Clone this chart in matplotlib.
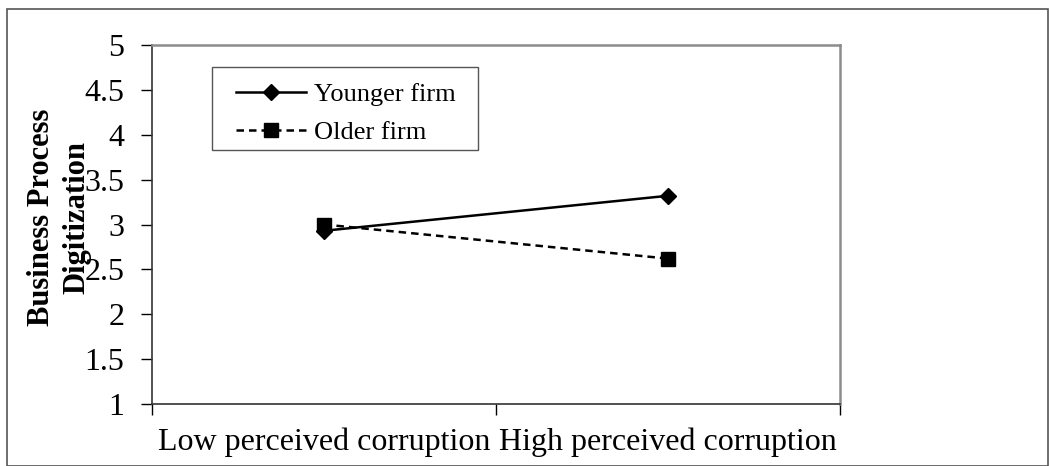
import matplotlib
matplotlib.use("Agg")
import matplotlib.pyplot as plt
from matplotlib.patches import Rectangle

categories = ["Low perceived corruption", "High perceived corruption"]
younger = [2.93, 3.32]
older = [3.00, 2.62]
yticks = [1, 1.5, 2, 2.5, 3, 3.5, 4, 4.5, 5]
ytick_labels = ["1", "1.5", "2", "2.5", "3", "3.5", "4", "4.5", "5"]

plt.rcParams['font.family'] = ['Liberation Serif', 'DejaVu Serif']

W, H = 1049, 466
fig = plt.figure(figsize=(W / 100, H / 100), dpi=100)
ax = fig.add_axes([152 / W, 1 - 404 / H, (840 - 152) / W, (404 - 45) / H])

x = [0.5, 1.5]
ax.plot(x, younger, color='black', linestyle='-', linewidth=1.8, marker='D',
        markersize=8, label='Younger firm', zorder=3)
ax.plot(x, older, color='black', linestyle=(0, (3, 2)), linewidth=1.8, marker='s',
        markersize=10, label='Older firm', zorder=3)

ax.set_xlim(0, 2)
ax.set_ylim(1, 5)
ax.set_yticks(yticks)
ax.set_yticklabels(ytick_labels, fontsize=23)
ax.set_xticks(x)
ax.set_xticklabels(categories, fontsize=23)
ax.tick_params(axis='x', which='major', length=0, pad=17)
ax.set_xticks([0, 1, 2], minor=True)
ax.tick_params(axis='x', which='minor', length=8, direction='out', width=1)
ax.tick_params(axis='y', length=8, direction='out', width=1, pad=12)

for s in ['left', 'bottom']:
    ax.spines[s].set_color('#333333')
    ax.spines[s].set_linewidth(1.2)
for s in ['top', 'right']:
    ax.spines[s].set_color('#8c8c8c')
    ax.spines[s].set_linewidth(1.8)

fig.text(59 / W, 1 - 217 / H, "Business Process\nDigitization", fontsize=22,
         fontweight='bold', rotation=90, ha='center', va='center',
         linespacing=1.28, multialignment='center')

# legend without its own frame; box drawn separately
leg = ax.legend(loc='upper left',
                bbox_to_anchor=(236 / W, 1 - 83 / H), bbox_transform=fig.transFigure,
                fontsize=19, frameon=False, handlelength=2.65,
                borderpad=0, labelspacing=0.53, handletextpad=0.3, borderaxespad=0)
fig.patches.append(Rectangle((212 / W, 1 - 150 / H), (478 - 212) / W, (150 - 67) / H,
                             transform=fig.transFigure, fill=False,
                             edgecolor='#555555', linewidth=1.0, zorder=5))

fig.patches.append(Rectangle((7 / W, 0), (1048 - 7) / W, 1 - 9 / H,
                             transform=fig.transFigure, fill=False,
                             edgecolor='#555555', linewidth=1.2))

fig.savefig("out.png", dpi=100)
